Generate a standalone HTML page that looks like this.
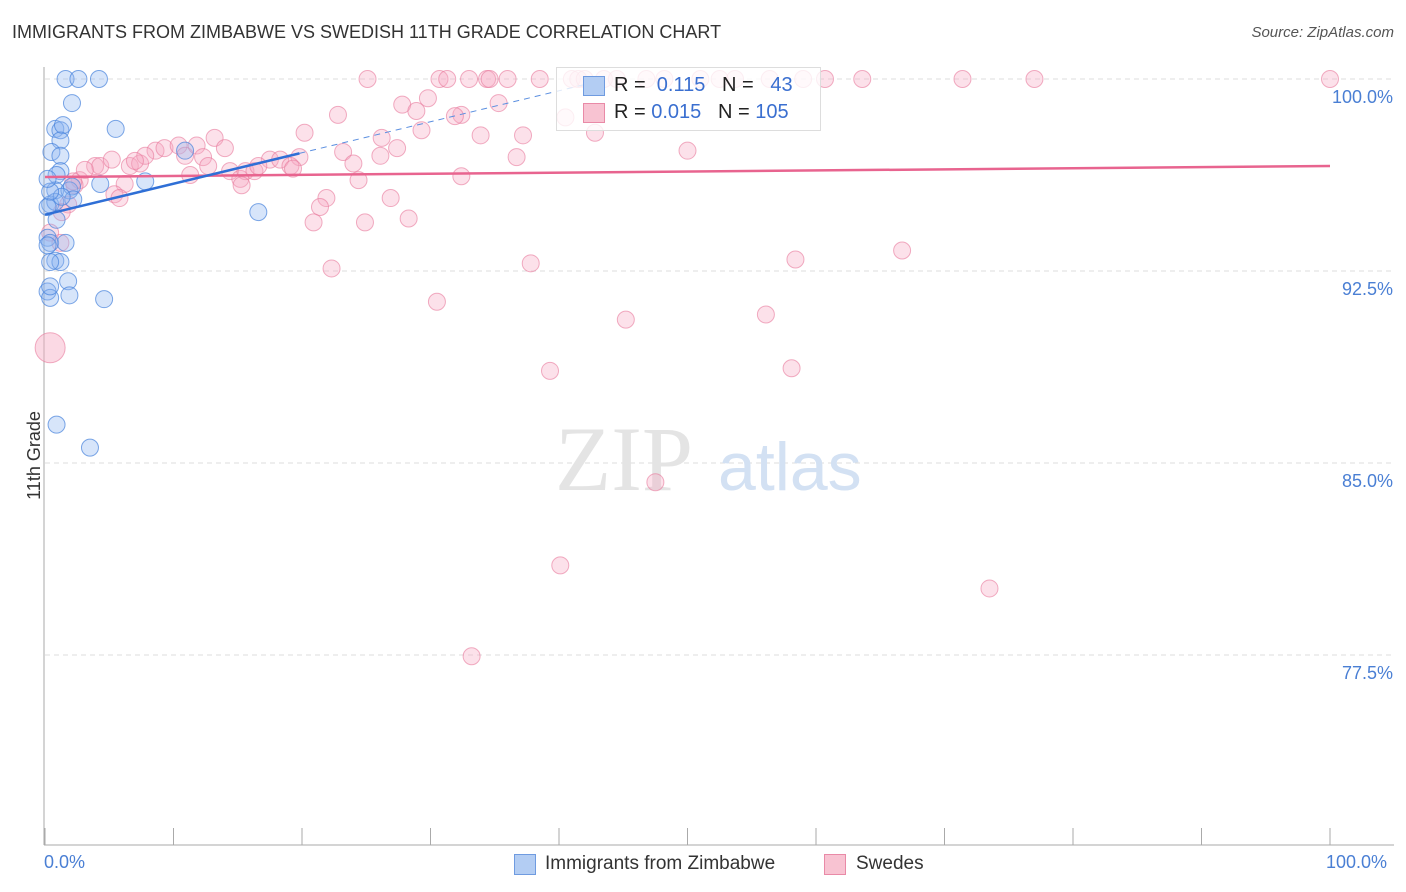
<!DOCTYPE html>
<html><head><meta charset="utf-8"><style>
body{margin:0;background:#fff;font-family:"Liberation Sans",sans-serif}
#wrap{position:relative;width:1406px;height:892px;overflow:hidden}
.t{position:absolute;white-space:nowrap}
</style></head><body>
<div id="wrap">
<div class="t" style="left:12px;top:22px;font-size:18px;color:#333">IMMIGRANTS FROM ZIMBABWE VS SWEDISH 11TH GRADE CORRELATION CHART</div>
<div class="t" style="right:12px;top:24px;font-size:15px;color:#555;font-style:italic">Source: ZipAtlas.com</div>
<svg id="plot" width="1406" height="892" style="position:absolute;left:0;top:0"></svg>
<div class="t" style="left:-10px;top:445px;font-size:18px;color:#333;transform:rotate(-90deg)">11th Grade</div>
<div class="t" style="left:44px;top:852px;font-size:18px;color:#4a7fd4">0.0%</div>
<div class="t" style="left:1326px;top:852px;font-size:18px;color:#4a7fd4">100.0%</div>
<div style="position:absolute;left:556px;top:67px;width:263px;height:62px;border:1px solid #ddd;background:rgba(255,255,255,0.8)">
<div style="position:absolute;left:26px;top:8px;width:20px;height:18px;background:#b3cdf3;border:1px solid #6f9be0"></div>
<div class="t" style="left:57px;top:6px;font-size:20px;color:#222">R = &nbsp;<span style="color:#3a6fd0">0.115</span> &nbsp;&nbsp;N = &nbsp;&nbsp;<span style="color:#3a6fd0">43</span></div>
<div style="position:absolute;left:26px;top:35px;width:20px;height:18px;background:#f8c3d2;border:1px solid #e98aa7"></div>
<div class="t" style="left:57px;top:33px;font-size:20px;color:#222">R = <span style="color:#3a6fd0">0.015</span> &nbsp;&nbsp;N = <span style="color:#3a6fd0">105</span></div>
</div>
<div>
<div style="position:absolute;left:514px;top:854px;width:20px;height:19px;background:#b3cdf3;border:1px solid #6f9be0"></div>
<div class="t" style="left:545px;top:853px;font-size:19px;color:#333">Immigrants from Zimbabwe</div>
<div style="position:absolute;left:824px;top:854px;width:20px;height:19px;background:#f8c3d2;border:1px solid #e98aa7"></div>
<div class="t" style="left:856px;top:853px;font-size:19px;color:#333">Swedes</div>
</div>
</div>
<script>
const yTicks=[100,92.5,85,77.5];
const yTickLabels=["100.0%","92.5%","85.0%","77.5%"];
const blueX=[1.6,2.6,4.2,2.1,5.5,0.8,1.2,1.4,1.2,0.5,1.2,1.2,0.9,4.3,7.8,0.8,1.9,2.1,2.2,0.4,0.8,16.6,0.9,0.2,0.4,1.6,0.8,1.2,0.4,1.8,1.9,0.2,0.4,4.6,0.9,3.5,10.9,0.4,0.2,0.2,1.3,0.4,0.2];
const blueY=[100,100,100,99.06,98.05,98.05,98.0,98.2,97.6,97.15,97.0,96.4,96.25,95.9,96.0,95.65,95.65,95.8,95.3,95.1,95.2,94.8,94.5,93.8,93.6,93.6,92.9,92.85,92.85,92.1,91.55,91.7,91.45,91.4,86.5,85.6,97.2,91.9,93.5,95.0,95.4,95.6,96.1];
const pinkX=[100,25.1,30.7,31.3,34.4,34.6,36,41,41.5,46.8,51,53.7,56.4,60.7,63.6,71.4,77,29.8,27.8,28.9,35.3,32.4,31.9,22.8,20.2,29.3,26.2,33.9,37.2,40.5,42.8,50,36.7,27.4,26.1,23.2,24,24.4,19.8,32.4,21.9,21.4,26.9,28.3,20.9,24.9,22.3,37.8,30.5,45.2,56.1,58.4,66.7,39.3,58.1,47.5,40.1,73.5,33.2,3.9,4.3,5.2,6.6,7.4,8.6,9.3,10.4,10.9,11.8,13.2,14,12.3,12.7,11.3,14.4,15.2,15.6,16.3,17.5,18.3,19.1,19.3,16.6,6.2,5.4,5.8,2.7,2.3,1.8,1.3,1.2,0.4,3.1,7.8,7.0,15.3,42,43.5,44.5,52.5,59,38.5,48.2,33,2.2];
const pinkY=[100,100,100,100,100,100,100,100,100,100,100,100,100,100,100,100,100,99.25,99.0,98.75,99.06,98.6,98.55,98.6,97.9,98.0,97.7,97.8,97.8,98.5,97.9,97.2,96.95,97.3,97.0,97.15,96.7,96.05,96.95,96.2,95.35,95.0,95.35,94.55,94.4,94.4,92.6,92.8,91.3,90.6,90.8,92.95,93.3,88.6,88.7,84.25,81.0,80.1,77.45,96.6,96.6,96.85,96.6,96.7,97.2,97.3,97.4,97.0,97.4,97.7,97.3,96.95,96.6,96.25,96.4,96.1,96.4,96.4,96.85,96.85,96.6,96.5,96.6,95.9,95.5,95.35,96.05,95.85,95.1,94.8,93.6,94.0,96.45,97.0,96.8,95.85,100,100,100,100,100,100,100,100,96.0];
const NS='http://www.w3.org/2000/svg';
const svg=document.getElementById('plot');
const X=v=>45+v*12.85, Y=v=>79+(100-v)*25.6;
function mk(tag,a,parent){const e=document.createElementNS(NS,tag);for(const k in a)e.setAttribute(k,a[k]);(parent||svg).appendChild(e);return e;}
yTicks.forEach((t,i)=>{
 const g=mk('line',{x1:45,x2:1394,y1:Y(t),y2:Y(t),stroke:'#ddd','stroke-dasharray':'5,4'});
 
 
 const tx=mk('text',{x:1393,y:Y(t)+24,'text-anchor':'end','font-size':18,fill:'#4a7fd4','font-family':'Liberation Sans, sans-serif'});
 tx.textContent=yTickLabels[i];
 
 
});
const ax=mk('line',{x1:44,x2:44,y1:67,y2:845,stroke:'#aaa'});


const bx=mk('line',{x1:44,x2:1394,y1:845,y2:845,stroke:'#aaa'});


for(let k=0;k<=10;k++){const tk=mk('line',{x1:X(k*10),x2:X(k*10),y1:828,y2:845,stroke:'#aaa'});
 
 }
const wm=mk('text',{x:555,y:490,'font-size':92,fill:'#e4e4e4','font-family':'Liberation Serif, serif'});wm.textContent='ZIP';


const wm2=mk('text',{x:718,y:490,'font-size':68,fill:'#d3e1f3','font-family':'Liberation Sans, sans-serif'});wm2.textContent='atlas';


pinkX.forEach((x,i)=>{const c=mk('circle',{cx:X(x),cy:Y(pinkY[i]),r:8.5,fill:'rgba(246,170,195,0.35)',stroke:'rgba(232,120,155,0.6)','stroke-width':1});
 
 });
const big=mk('circle',{cx:X(0.4),cy:Y(89.5),r:15,fill:'rgba(246,170,195,0.45)',stroke:'rgba(232,120,155,0.6)'});


blueX.forEach((x,i)=>{const c=mk('circle',{cx:X(x),cy:Y(blueY[i]),r:8.5,fill:'rgba(140,180,240,0.35)',stroke:'rgba(70,130,220,0.7)','stroke-width':1});
 
 });
const pl=mk('line',{x1:X(0),y1:Y(96.17),x2:X(100),y2:Y(96.6),stroke:'#e8648f','stroke-width':2.5});


const b0=94.7,bs=0.121;
const bl=mk('line',{x1:X(0),y1:Y(b0),x2:X(19.8),y2:Y(b0+bs*19.8),stroke:'#2f6fd6','stroke-width':2.5});


const bd=mk('line',{x1:X(19.8),y1:Y(b0+bs*19.8),x2:X(42),y2:Y(b0+bs*42),stroke:'#5b8fe0','stroke-width':1,'stroke-dasharray':'6,5'});


</script>
</body></html>
